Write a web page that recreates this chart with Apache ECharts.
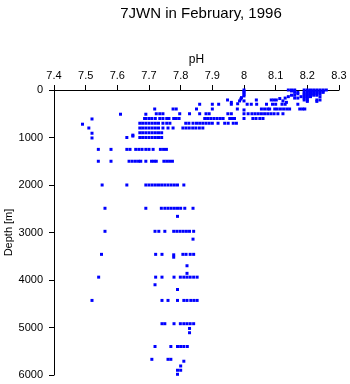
<!DOCTYPE html>
<html>
<head>
<meta charset="utf-8">
<script src="https://cdn.jsdelivr.net/npm/echarts@6/dist/echarts.min.js"></script>
<style>
html,body{margin:0;padding:0;background:#fff;}
#chart{width:350px;height:384px;}
</style>
</head>
<body>
<div id="chart"></div>
<script>
// pH tick labels / depth ticks
const phTicks = [7.4, 7.5, 7.6, 7.7, 7.8, 7.9, 8.0, 8.1, 8.2, 8.3];
const depthTicks = [0, 1000, 2000, 3000, 4000, 5000, 6000];

// [pH, depth m] samples, grouped by depth band
const surfaceLayer = [
  [8.0,0],[8.0,30],[8.0,60],[8.0,95],[8.0,125],[7.992,160],
  [8.14,0],[8.15,0],[8.16,0],[8.19,0],[8.2,0],[8.21,0],[8.22,0],[8.23,0],[8.24,0],[8.25,0],[8.26,0],
  [8.15,20],[8.16,20],[8.2,20],[8.21,20],[8.22,20],[8.23,20],[8.24,20],[8.25,20],
  [8.16,50],[8.17,50],[8.19,50],[8.2,50],[8.21,50],[8.22,50],[8.23,50],[8.24,50],[8.25,50],
  [8.17,80],[8.19,80],[8.2,80],[8.21,80],[8.22,80],[8.23,80],[8.24,80],
  [8.15,110],[8.16,110],[8.19,110],[8.2,110],[8.21,110],[8.22,110],[8.23,110],
  [8.14,140],[8.18,140],[8.19,140],[8.2,140],[8.21,140],[8.24,140],
  [8.13,170],[8.16,170],[8.17,170],[8.19,170],[8.2,170],
  [8.19,210],[8.2,210],[8.23,210],[8.24,210],
  [8.2,240],[8.23,240],
  [7.948,210],[7.96,260],[7.986,230],[8.039,210],[8.086,210],[8.094,210],[8.102,210],
  [8.113,180],[8.123,230],[8.134,260],[7.99,190],[8.0,230]
];

const thermoclineLayer = [
  [7.86,300],[7.90,300],[7.92,300],[7.96,300],[7.98,290],[8.01,300],[8.023,300],[8.04,300],
  [8.071,300],[8.09,300],[8.10,300],[8.12,300],[8.13,300],[8.17,300],
  [7.718,400],[7.776,400],[7.786,400],[7.85,400],[7.90,400],[7.979,400],[8.0,420],
  [8.055,400],[8.065,400],[8.075,400],[8.081,400],[8.097,400],[8.105,400],[8.115,400],
  [8.125,400],[8.135,400],[8.144,400],[8.176,400],[8.185,400],[8.192,400],
  [7.61,510],[7.69,510],[7.723,500],[7.734,500],[7.744,500],[7.797,500],[7.828,500],[7.86,500],
  [7.88,500],[7.89,500],[7.949,500],[7.96,500],[8.0,500],[8.013,500],[8.025,500],[8.035,500],
  [8.045,500],[8.055,500],[8.065,500],[8.075,500],[8.085,500],[8.095,500],[8.107,500],[8.123,500],
  [7.52,610],[7.686,600],[7.69,600],[7.70,600],[7.709,600],[7.72,600],[7.734,600],[7.744,600],
  [7.756,600],[7.763,600],[7.778,600],[7.786,600],[7.795,600],[7.876,600],[7.885,600],[7.895,600],
  [7.905,600],[7.915,600],[7.925,600],[7.934,600],[7.955,600],[7.963,600],[7.97,600],[8.0,600],
  [8.028,600],[8.038,600],[8.05,600],[8.06,600]
];

const intermediateLayer = [
  [7.49,720],[7.671,700],[7.68,700],[7.69,700],[7.70,700],[7.71,700],[7.72,700],[7.73,700],
  [7.744,700],[7.756,700],[7.766,700],[7.816,700],[7.826,700],[7.839,700],[7.85,700],[7.86,700],
  [7.87,700],[7.88,700],[7.89,700],[7.90,700],[7.918,700],[7.939,700],[7.95,700],[7.966,700],[7.976,700],
  [7.51,800],[7.671,800],[7.68,800],[7.69,800],[7.70,800],[7.71,800],[7.72,800],[7.73,800],
  [7.744,800],[7.76,800],[7.776,800],[7.807,800],[7.817,800],[7.827,800],[7.838,800],[7.848,800],
  [7.859,800],[7.87,800],
  [7.52,910],[7.671,900],[7.68,900],[7.69,900],[7.70,900],[7.71,900],[7.72,900],[7.73,900],[7.74,900],
  [7.649,950],
  [7.52,1010],[7.63,1000],[7.649,970],[7.671,1000],[7.68,1000],[7.69,1000],[7.70,1000],[7.71,1000],
  [7.72,1000],[7.73,1000],[7.74,1000],
  [7.54,1250],[7.58,1250],[7.63,1250],[7.64,1250],[7.658,1250],[7.668,1250],[7.678,1250],[7.69,1250],
  [7.70,1250],[7.713,1250],[7.736,1250],[7.746,1250],[7.755,1250],
  [7.54,1500],[7.58,1500],[7.637,1500],[7.647,1500],[7.657,1500],[7.667,1500],[7.674,1500],[7.69,1500],
  [7.708,1500],[7.716,1500],[7.723,1500],[7.747,1500],[7.756,1500],[7.765,1500],[7.774,1500]
];

const deepLayer = [
  [7.552,2000],[7.63,2000],[7.69,2000],[7.70,2000],[7.71,2000],[7.72,2000],[7.73,2000],[7.74,2000],
  [7.75,2000],[7.76,2000],[7.77,2000],[7.78,2000],[7.79,2000],[7.81,2000],
  [7.561,2490],[7.69,2490],[7.739,2490],[7.75,2490],[7.76,2490],[7.77,2490],[7.78,2490],[7.79,2490],
  [7.80,2490],[7.813,2490],[7.839,2490],[7.79,2660],
  [7.561,2975],[7.719,2975],[7.731,2975],[7.75,2975],[7.778,2975],[7.788,2975],[7.798,2975],
  [7.808,2975],[7.818,2975],[7.828,2975],[7.841,2975],[7.839,3140],
  [7.55,3460],[7.721,3460],[7.741,3460],[7.778,3470],[7.778,3520],[7.807,3460],[7.817,3460],
  [7.83,3460],[7.841,3460],[7.82,3700],[7.82,3860],
  [7.541,3940],[7.721,3940],[7.741,3940],[7.779,3940],[7.799,3940],[7.81,3940],[7.82,3940],
  [7.83,3940],[7.841,3940],[7.852,3940],[7.719,4100],[7.79,4200],
  [7.52,4430],[7.741,4430],[7.76,4430],[7.79,4430],[7.81,4430],[7.82,4430],[7.832,4430],
  [7.842,4430],[7.852,4430],
  [7.741,4920],[7.75,4920],[7.779,4920],[7.799,4920],[7.81,4920],[7.82,4920],[7.83,4920],
  [7.841,4920],[7.828,5020],[7.828,5110],
  [7.719,5400],[7.769,5400],[7.79,5400],[7.80,5400],[7.81,5400],[7.821,5400],
  [7.709,5670],[7.76,5670],[7.769,5670],[7.81,5710],[7.80,5810],[7.79,5900],[7.80,5900],[7.79,5985]
];

const FONT = 'Liberation Sans, Arial, Helvetica, sans-serif';
const chart = echarts.init(document.getElementById('chart'), null, {renderer: 'canvas'});
const mkSeries = (data) => ({
  type: 'scatter',
  data: data,
  symbol: 'rect',
  symbolSize: 3,
  itemStyle: {color: '#0000ff', opacity: 1},
  emphasis: {disabled: true},
  animation: false
});
chart.setOption({
  animation: false,
  title: {
    text: '7JWN in February, 1996',
    left: 196, top: 1, textAlign: 'center',
    textStyle: {fontFamily: FONT, fontSize: 15, fontWeight: 'normal', color: '#000'}
  },
  grid: {left: 54, top: 90, right: 11, bottom: 9, containLabel: false, outerBoundsMode: 'none'},
  xAxis: {
    type: 'value', position: 'top',
    min: phTicks[0], max: phTicks[phTicks.length - 1], interval: 0.1,
    name: 'pH', nameLocation: 'middle', nameGap: 24, nameMoveOverlap: false,
    nameTextStyle: {fontFamily: FONT, fontSize: 12, color: '#000'},
    axisLine: {show: true, lineStyle: {color: '#000', width: 1}},
    axisTick: {show: true, length: 5, lineStyle: {color: '#000'}},
    axisLabel: {fontFamily: FONT, fontSize: 11, color: '#000', margin: 9,
      formatter: v => String(+(+v).toFixed(1))},
    splitLine: {show: false}
  },
  yAxis: {
    type: 'value', inverse: true,
    min: depthTicks[0], max: depthTicks[depthTicks.length - 1], interval: 1000,
    name: 'Depth [m]', nameLocation: 'middle', nameGap: 40, nameMoveOverlap: false,
    nameTextStyle: {fontFamily: FONT, fontSize: 11, color: '#000'},
    axisLine: {show: true, lineStyle: {color: '#000', width: 1}},
    axisTick: {show: true, length: 5, lineStyle: {color: '#000'}},
    axisLabel: {fontFamily: FONT, fontSize: 11, color: '#000', margin: 11,
      formatter: v => String(Math.round(v))},
    splitLine: {show: false}
  },
  series: [mkSeries(surfaceLayer), mkSeries(thermoclineLayer), mkSeries(intermediateLayer), mkSeries(deepLayer)]
});
</script>
</body>
</html>
